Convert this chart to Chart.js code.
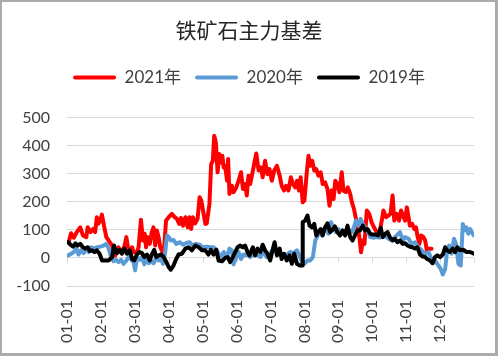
<!DOCTYPE html>
<html><head><meta charset="utf-8">
<script src="https://cdn.jsdelivr.net/npm/chart.js@4.4.0/dist/chart.umd.min.js"></script>
<style>html,body{margin:0;padding:0;background:#fff;}#wrap{width:498px;height:356px;position:relative;}</style>
</head><body><div id="wrap"><canvas id="c" width="498" height="356"></canvas></div>
<script>
const chartTitle = '铁矿石主力基差';
const monthLabels = ['01-01','02-01','03-01','04-01','05-01','06-01','07-01','08-01','09-01','10-01','11-01','12-01'];
const seriesNames = ['2021年','2020年','2019年'];
const yTicks = [-100, 0, 100, 200, 300, 400, 500];

// x = position in months from 01-01 (0 = Jan 1, 12 = year end)
const x2021 = [0.05,0.12,0.20,0.29,0.39,0.47,0.57,0.61,0.69,0.77,0.83,0.88,0.93,0.98,1.03,1.10,1.16,1.23,1.33,1.42,1.52,1.59,1.69,1.75,1.82,1.92,1.96,2.06,2.11,2.18,2.24,2.29,2.33,2.38,2.44,2.50,2.55,2.60,2.65,2.70,2.75,2.85,2.92,3.00,3.09,3.16,3.24,3.31,3.36,3.42,3.49,3.56,3.61,3.66,3.71,3.78,3.85,3.91,3.96,4.01,4.08,4.12,4.20,4.25,4.30,4.34,4.39,4.44,4.49,4.54,4.58,4.62,4.66,4.72,4.75,4.79,4.86,4.91,4.99,5.06,5.13,5.19,5.26,5.30,5.35,
5.40,5.50,5.58,5.65,5.72,5.77,5.84,5.91,5.97,6.04,6.11,6.19,6.27,6.33,6.40,6.46,6.53,6.60,6.66,6.73,6.78,6.84,6.89,6.95,7.00,7.07,7.12,7.17,7.23,7.29,7.35,7.41,7.48,7.54,7.61,7.68,7.74,7.80,7.86,7.91,7.97,8.03,8.10,8.15,8.22,8.28,8.35,8.40,8.46,8.52,8.57,8.62,8.67,8.72,8.77,8.84,8.91,8.98,9.05,9.13,9.21,9.28,9.33,9.41,9.48,9.54,9.60,9.65,9.72,9.79,9.85,9.90,9.97,10.02,10.07,10.11,10.18,10.24,10.29,10.34,10.39,10.44,10.51,10.56,10.61,10.66,10.75];
const v2021 = [56,88,72,92,109,80,74,109,92,103,92,145,122,133,154,109,74,62,44,8,38,20,40,74,20,38,20,20,38,136,62,86,38,74,50,92,109,44,98,74,38,12,133,145,157,147,139,121,142,115,145,109,145,103,145,123,139,216,204,169,121,123,192,334,346,435,411,305,370,340,364,322,328,275,352,228,257,234,251,275,305,245,263,222,293,
263,322,372,311,322,287,346,298,316,275,311,328,293,257,240,257,240,287,263,251,275,240,287,198,204,305,364,328,346,311,316,293,305,263,269,245,186,240,210,275,263,234,305,240,234,251,228,198,175,139,109,74,20,62,50,169,157,127,109,92,86,133,169,145,151,157,222,133,157,133,169,151,133,180,145,115,121,103,109,74,50,80,74,62,27,33,33];

const x2020 = [0.03,0.12,0.20,0.28,0.34,0.41,0.49,0.57,0.64,0.71,0.79,0.88,0.98,1.08,1.16,1.23,1.30,1.37,1.45,1.52,1.59,1.67,1.75,1.82,1.90,1.96,2.01,2.06,2.14,2.21,2.28,2.34,2.41,2.47,2.55,2.63,2.70,2.77,2.83,2.89,2.95,3.00,3.06,3.14,3.22,3.32,3.42,3.52,3.61,3.71,3.81,3.91,4.01,4.12,4.22,4.32,4.42,4.52,4.62,4.71,4.79,4.86,4.91,4.99,5.06,5.13,5.20,5.30,5.38,
5.40,5.55,5.70,5.79,5.89,5.99,6.09,6.19,6.28,6.38,6.48,6.58,6.68,6.78,6.87,6.95,7.02,7.09,7.17,7.25,7.32,7.37,7.44,7.51,7.56,7.64,7.71,7.78,7.86,7.93,8.00,8.07,8.15,8.25,8.33,8.40,8.46,8.52,8.59,8.66,8.72,8.79,8.86,8.94,9.04,9.13,9.23,9.33,9.43,9.53,9.62,9.72,9.82,9.90,9.97,10.07,10.16,10.26,10.36,10.46,10.56,10.66,10.75,10.85,10.95,11.02,11.08,11.15,11.21,11.27,11.34,11.41,11.47,11.54,11.61,11.67,11.72,11.77,11.83,11.88,11.96,12.00];
const v2020 = [9,15,21,33,12,27,17,33,21,38,33,38,40,44,50,33,3,-12,-7,-15,-7,-21,-9,3,-7,-15,-44,3,-7,3,-23,3,-19,-9,-19,0,-9,0,-21,15,80,74,62,64,50,56,47,53,56,44,50,47,38,40,38,38,27,3,21,3,33,27,-23,3,21,-4,12,9,15,
3,15,3,21,3,15,33,27,15,9,12,21,17,27,3,-21,-19,-9,-9,3,62,74,92,80,98,109,86,127,109,92,103,92,86,103,98,92,109,133,115,139,121,109,98,74,72,74,72,80,74,64,68,80,92,62,74,68,50,56,38,27,12,21,-4,-9,-27,-39,-59,-39,27,44,15,68,50,-21,-27,121,98,109,86,103,86,80];

const x2019 = [0.03,0.10,0.18,0.25,0.31,0.39,0.47,0.54,0.61,0.67,0.74,0.81,0.88,0.96,1.03,1.13,1.23,1.33,1.39,1.47,1.55,1.62,1.69,1.77,1.85,1.92,1.98,2.06,2.14,2.21,2.28,2.36,2.44,2.50,2.57,2.63,2.70,2.77,2.85,2.93,3.00,3.06,3.14,3.22,3.29,3.39,3.49,3.58,3.68,3.78,3.88,3.98,4.08,4.17,4.24,4.32,4.40,4.47,4.57,4.66,4.74,4.81,4.89,4.96,5.03,5.11,5.18,5.25,5.32,5.38,
5.40,5.48,5.55,5.62,5.70,5.77,5.84,5.91,5.99,6.06,6.12,6.19,6.27,6.33,6.40,6.48,6.56,6.63,6.70,6.78,6.86,6.93,6.95,7.02,7.09,7.15,7.22,7.29,7.35,7.41,7.48,7.54,7.61,7.68,7.76,7.85,7.90,7.97,8.05,8.13,8.20,8.27,8.35,8.42,8.49,8.56,8.64,8.72,8.79,8.86,8.94,9.01,9.11,9.17,9.25,9.31,9.38,9.45,9.52,9.60,9.67,9.74,9.82,9.90,9.97,10.04,10.11,10.19,10.26,10.33,10.41,10.49,10.56,10.62,10.70,10.78,10.85,10.92,11.00,11.08,11.15,11.21,11.29,11.37,11.44,11.51,11.59,11.68,11.78,11.88,12.00];
const v2019 = [56,47,40,52,44,50,38,33,38,24,27,21,27,15,-9,-9,-9,3,44,17,29,15,33,15,27,-4,-9,12,21,17,3,12,-9,12,29,3,9,12,3,-15,-33,-42,-27,-4,12,15,33,38,27,44,38,27,27,12,29,12,29,-9,-12,0,3,-15,3,21,38,44,38,44,21,9,
15,38,9,33,21,47,27,15,-9,27,56,9,33,-4,15,-9,9,-21,15,-21,-27,-27,127,133,151,115,109,121,80,92,103,80,109,123,92,103,112,92,80,98,80,115,74,62,80,98,98,115,98,103,86,83,83,80,107,74,86,92,74,62,68,56,62,50,52,44,40,38,33,38,12,5,3,-4,-9,-19,3,9,3,12,38,27,21,33,21,38,27,29,21,21,15];

function pts(xs, vs) { return xs.map((x, i) => ({ x: x, y: vs[i] })); }

const frameAndTicks = {
  id: 'frameAndTicks',
  beforeLayout(chart) {
    const lg = chart.legend;
    if (lg && !lg._patched) {
      const f = lg.fit.bind(lg);
      lg.fit = function () { f(); this.height += 21.5; };
      lg._patched = true;
    }
  },
  beforeDraw(chart) {
    const c = chart.ctx;
    c.save(); c.fillStyle = '#ffffff'; c.fillRect(0, 0, chart.width, chart.height); c.restore();
  },
  beforeDatasetsDraw(chart) {
    const c = chart.ctx, sx = chart.scales.x, sy = chart.scales.y;
    const y0 = sy.getPixelForValue(0);
    c.save();
    c.strokeStyle = '#d9d9d9'; c.lineWidth = 1;
    c.beginPath();
    for (let i = 0; i <= 12; i++) {
      const x = Math.round(sx.getPixelForValue(i)) + 0.5;
      c.moveTo(x, y0); c.lineTo(x, y0 + 5);
    }
    c.stroke();
    c.restore();
  },
  afterDraw(chart) {
    const c = chart.ctx, w = chart.width, h = chart.height;
    c.save();
    c.fillStyle = '#ababab';
    c.fillRect(0, 0, w, 2);
    c.fillRect(0, 0, 2, h);
    c.fillRect(w - 3, 0, 3, h);
    c.fillRect(0, h - 3, w, 3);
    c.restore();
  }
};

const tickFont = { family: 'Lato, "Noto Sans CJK SC"', size: 16 };

new Chart(document.getElementById('c'), {
  type: 'line',
  data: {
    datasets: [
      { label: seriesNames[0], data: pts(x2021, v2021), borderColor: '#ff0000', backgroundColor: '#ff0000', order: 3 },
      { label: seriesNames[1], data: pts(x2020, v2020), borderColor: '#5b9bd5', backgroundColor: '#5b9bd5', order: 2 },
      { label: seriesNames[2], data: pts(x2019, v2019), borderColor: '#000000', backgroundColor: '#000000', order: 1 }
    ]
  },
  options: {
    responsive: false,
    animation: false,
    devicePixelRatio: 1,
    layout: { padding: { left: 0, right: 0, top: 0, bottom: 0 } },
    elements: {
      line: { borderWidth: 4, tension: 0, borderJoinStyle: 'round', borderCapStyle: 'round' },
      point: { radius: 0, hoverRadius: 0 }
    },
    plugins: {
      title: {
        display: true, text: chartTitle, color: '#262626',
        font: { family: '"Noto Sans CJK SC"', size: 21, weight: 'normal', lineHeight: 1.2 },
        padding: { top: 17.4, bottom: 12.4 }
      },
      legend: {
        display: true,
        labels: {
          boxWidth: 43, boxHeight: 4, padding: 14, color: '#404040',
          font: { family: 'Lato, "Noto Sans CJK SC"', size: 17 },
          useBorderRadius: true, borderRadius: 2,
          sort: (a, b) => a.datasetIndex - b.datasetIndex,
          generateLabels(chart) {
            return Chart.defaults.plugins.legend.labels.generateLabels(chart).map(l => Object.assign({}, l, { lineWidth: 0 }));
          }
        }
      },
      tooltip: { enabled: false }
    },
    scales: {
      x: {
        type: 'linear', min: 0, max: 12,
        afterBuildTicks(s) { s.ticks = monthLabels.map((_, i) => ({ value: i })); },
        ticks: {
          autoSkip: false, maxRotation: 90, minRotation: 90, padding: 14,
          color: '#404040', font: tickFont,
          callback: (v) => monthLabels[v] !== undefined ? monthLabels[v] : ''
        },
        grid: { display: false, drawTicks: false },
        border: { display: false },
        afterFit(s) { s.height = 70; }
      },
      y: {
        min: -100, max: 500,
        afterBuildTicks(s) { s.ticks = yTicks.map(v => ({ value: v })); },
        ticks: { padding: 17, color: '#404040', font: tickFont },
        grid: { color: '#d9d9d9', lineWidth: 1, drawTicks: false },
        border: { display: false },
        afterFit(s) { s.width = 67; }
      },
      y2: {
        position: 'right', display: true,
        ticks: { display: false },
        grid: { display: false, drawTicks: false },
        border: { display: false },
        afterFit(s) { s.width = 24; }
      }
    }
  },
  plugins: [frameAndTicks]
});
</script>
</body></html>
